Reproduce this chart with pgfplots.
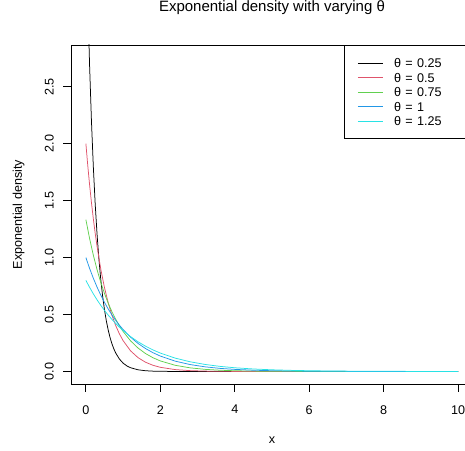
\documentclass[border=0pt]{standalone}
\usepackage{fontspec}
\setmainfont{Liberation Sans}
\usepackage{pgfplots}
\pgfplotsset{compat=1.18}
\definecolor{rblack}{HTML}{000000}
\definecolor{rred}{HTML}{DF536B}
\definecolor{rgreen}{HTML}{61D04F}
\definecolor{rblue}{HTML}{2297E6}
\definecolor{rcyan}{HTML}{28E2E5}
\begin{document}
\begin{tikzpicture}
\begin{axis}[
  name=ax,
  scale only axis,
  width=402bp, height=339bp,
  xmin=-0.4, xmax=10.4, ymin=-0.110, ymax=2.867,
  axis line style={line width=0.8bp, black},
  xtick={0,2,4,6,8,10}, ytick={0,0.5,1,1.5,2,2.5},
  tick align=outside, tick pos=left,
  major tick length=7.5bp,
  every tick/.style={black, line width=0.8bp},
  /pgf/number format/assume math mode=true,
  tick label style={font=\fontsize{12.6bp}{15bp}\selectfont},
  label style={font=\fontsize{12.6bp}{15bp}\selectfont},
  xticklabel style={anchor=north, inner sep=0pt},
  yticklabel style={rotate=90, anchor=south, inner sep=0pt,
    /pgf/number format/fixed, /pgf/number format/fixed zerofill,
    /pgf/number format/precision=1},
  xticklabel shift=13.5bp,
  yticklabel shift=9.5bp,
  title={Exponential density with varying θ},
  title style={at={(axis description cs:0.5,1)}, anchor=base, yshift=27.5bp,
    inner sep=0pt, font=\fontsize{15bp}{18bp}\selectfont},
  xlabel={x},
  xlabel style={at={(axis description cs:0.5,-0.1652)}, anchor=center, inner sep=0pt},
  ylabel={Exponential density},
  ylabel style={at={(axis description cs:-0.1306,0.5)}, anchor=center, inner sep=0pt},
  legend cell align=left,
  legend style={at={(axis description cs:0.6791,1)}, anchor=north west,
    draw=black, line width=1bp, fill=white,
    inner xsep=13bp, inner ysep=13.2bp, row sep=5.5bp,
    font=\fontsize{12.6bp}{15bp}\selectfont,
    nodes={inner sep=0pt, text height=9bp, text depth=0pt},
    /tikz/every odd column/.append style={column sep=11bp},
    /tikz/every even column/.append style={text width=70bp}},
  legend image code/.code={\draw[#1, line width=0.75bp] (0bp,0bp) -- (25bp,0bp);},
]
\addplot[rblack, line width=0.75bp] coordinates {
(0,4) (0.05,3.2749) (0.1,2.6813) (0.15,2.1952) (0.2,1.7973) (0.25,1.4715)
(0.3,1.2048) (0.35,0.9864) (0.4,0.8076) (0.45,0.6612) (0.5,0.5413)
(0.55,0.4432) (0.6,0.3629) (0.65,0.2971) (0.7,0.2432) (0.75,0.1991)
(0.8,0.1630) (0.9,0.1093) (1.0,0.0733) (1.1,0.0491) (1.2,0.0329)
(1.4,0.0148) (1.6,0.0066) (1.8,0.0030) (2.0,0.0013) (2.5,0.0002)
(3,0) (4,0) (6,0) (8,0) (10,0)};
\addlegendentry{θ = 0.25}
\addplot[rred, line width=0.75bp] coordinates {
(0,2) (0.05,1.8097) (0.1,1.6375) (0.15,1.4816) (0.2,1.3406) (0.25,1.2131)
(0.3,1.0976) (0.4,0.8987) (0.5,0.7358) (0.6,0.6024) (0.7,0.4932)
(0.8,0.4038) (0.9,0.3306) (1.0,0.2707) (1.2,0.1814) (1.4,0.1216)
(1.6,0.0815) (1.8,0.0546) (2.0,0.0366) (2.4,0.0165) (2.8,0.0074)
(3.2,0.0033) (3.6,0.0015) (4.0,0.0007) (5,0.0001) (6,0) (8,0) (10,0)};
\addlegendentry{θ = 0.5}
\addplot[rgreen, line width=0.75bp] coordinates {
(0,1.3333) (0.1,1.1669) (0.2,1.0212) (0.3,0.8938) (0.4,0.7822)
(0.5,0.6846) (0.6,0.5991) (0.7,0.5243) (0.8,0.4589) (0.9,0.4016)
(1.0,0.3515) (1.2,0.2692) (1.4,0.2062) (1.6,0.1579) (1.8,0.1210)
(2.0,0.0926) (2.4,0.0543) (2.8,0.0319) (3.2,0.0187) (3.6,0.0110)
(4.0,0.0064) (4.5,0.0033) (5,0.0017) (6,0.0004) (7,0.0001) (8,0) (10,0)};
\addlegendentry{θ = 0.75}
\addplot[rblue, line width=0.75bp] coordinates {
(0,1) (0.1,0.9048) (0.2,0.8187) (0.3,0.7408) (0.4,0.6703) (0.5,0.6065)
(0.6,0.5488) (0.7,0.4966) (0.8,0.4493) (0.9,0.4066) (1.0,0.3679)
(1.2,0.3012) (1.4,0.2466) (1.6,0.2019) (1.8,0.1653) (2.0,0.1353)
(2.4,0.0907) (2.8,0.0608) (3.2,0.0408) (3.6,0.0273) (4.0,0.0183)
(4.5,0.0111) (5,0.0067) (5.5,0.0041) (6,0.0025) (7,0.0009) (8,0.0003)
(9,0.0001) (10,0)};
\addlegendentry{θ = 1}
\addplot[rcyan, line width=0.75bp] coordinates {
(0,0.8) (0.1,0.7385) (0.2,0.6817) (0.3,0.6293) (0.4,0.5809) (0.5,0.5363)
(0.6,0.4950) (0.7,0.4570) (0.8,0.4218) (0.9,0.3894) (1.0,0.3595)
(1.2,0.3063) (1.4,0.2610) (1.6,0.2224) (1.8,0.1895) (2.0,0.1615)
(2.4,0.1173) (2.8,0.0852) (3.2,0.0618) (3.6,0.0449) (4.0,0.0326)
(4.5,0.0219) (5,0.0147) (5.5,0.0098) (6,0.0066) (6.5,0.0044)
(7,0.0030) (8,0.0013) (9,0.0006) (10,0.0003)};
\addlegendentry{θ = 1.25}
\end{axis}
\pgfresetboundingbox
\useasboundingbox ([shift={(-71bp,-67bp)}]ax.south west) rectangle ([shift={(-8bp,45bp)}]ax.north east);
\end{tikzpicture}
\end{document}
